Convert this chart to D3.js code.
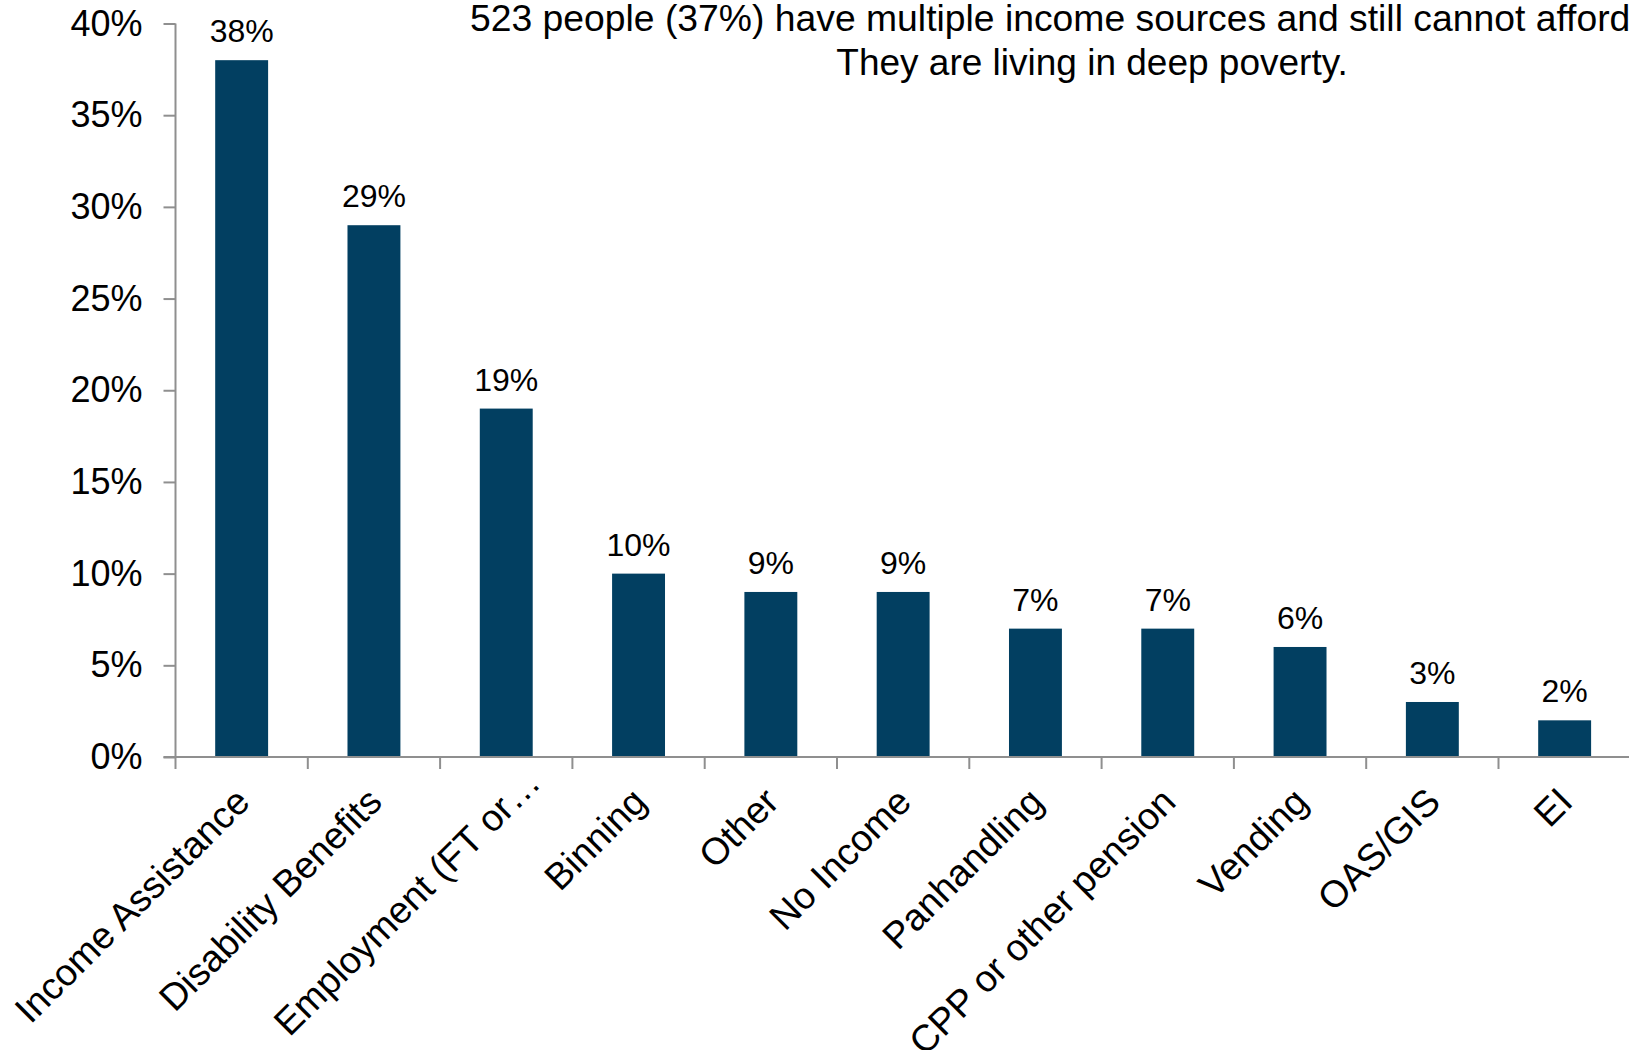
<!DOCTYPE html>
<html>
<head>
<meta charset="utf-8">
<script src="https://cdn.jsdelivr.net/npm/d3@7"></script>
<style>
  html, body { margin: 0; padding: 0; background: #fff; }
  svg { display: block; font-family: "Liberation Sans", Arial, sans-serif; }
</style>
</head>
<body>
<svg id="chart" width="1629" height="1050"></svg>
<script>
const categories = ["Income Assistance", "Disability Benefits", "Employment (FT or\u2026", "Binning", "Other", "No Income", "Panhandling", "CPP or other pension", "Vending", "OAS/GIS", "EI"];
const values = [38, 29, 19, 10, 9, 9, 7, 7, 6, 3, 2];
const yTicks = [0, 5, 10, 15, 20, 25, 30, 35, 40];
const titleLines = ["523 people (37%) have multiple income sources and still cannot afford", "They are living in deep poverty."];

const svg = d3.select("#chart");
const x0 = 175.5, step = 132.3;
const x = d3.scaleBand().domain(categories).range([x0, x0 + step * categories.length]).paddingInner(0.6).paddingOuter(0.3);
const y = d3.scaleLinear().domain([0, 40]).range([757, 23.5]);
const barColor = "#023f61";
const axisColor = "#8f8f8f";

// Bars
svg.append("g").selectAll("rect").data(values).join("rect")
  .attr("x", (d, i) => x(categories[i]))
  .attr("y", d => y(d))
  .attr("width", x.bandwidth())
  .attr("height", d => y(0) - y(d))
  .attr("fill", barColor);

// Value labels
svg.append("g").selectAll("text").data(values).join("text")
  .attr("x", (d, i) => x(categories[i]) + x.bandwidth() / 2)
  .attr("y", d => y(d) - 18)
  .attr("text-anchor", "middle")
  .attr("font-size", 32)
  .attr("fill", "#000")
  .text(d => d + "%");

// Y axis
const yAxis = d3.axisLeft(y).tickValues(yTicks).tickSize(12).tickPadding(21).tickFormat(d => d + "%");
const gy = svg.append("g").attr("transform", `translate(${x0},0)`).call(yAxis);
gy.select(".domain").attr("stroke", axisColor).attr("stroke-width", 2).attr("d", `M0,${y(40)}V${y(0)}`);
gy.selectAll(".tick line").attr("stroke", axisColor).attr("stroke-width", 2);
gy.selectAll(".tick text").attr("font-size", 36).attr("fill", "#000").attr("font-family", "Liberation Sans, Arial, sans-serif");

// X axis line and ticks at band boundaries
const boundaries = d3.range(categories.length + 1).map(i => x0 + i * step);
svg.append("line").attr("x1", x0 - 12).attr("x2", 1629).attr("y1", y(0)).attr("y2", y(0))
  .attr("stroke", axisColor).attr("stroke-width", 2);
svg.append("g").selectAll("line").data(boundaries).join("line")
  .attr("x1", d => d).attr("x2", d => d)
  .attr("y1", y(0)).attr("y2", y(0) + 12)
  .attr("stroke", axisColor).attr("stroke-width", 2);

// X labels (truncated labels are laid out from their full box, so they sit further along)
svg.append("g").selectAll("text").data(categories).join("text")
  .attr("transform", d => `translate(${x(d) + x.bandwidth() / 2 + 10},${y(0) + 47}) rotate(-45)`)
  .attr("text-anchor", "end")
  .attr("dx", d => d.endsWith("\u2026") ? 32 : 0)
  .attr("dy", d => d.endsWith("\u2026") ? 5 : 0)
  .attr("font-size", 37.5)
  .attr("fill", "#000")
  .text(d => d);

// Title
svg.append("text").attr("x", 470).attr("y", 31).attr("font-size", 37.3).attr("fill", "#000").text(titleLines[0]);
svg.append("text").attr("x", 1092).attr("y", 75).attr("font-size", 37).attr("text-anchor", "middle").attr("fill", "#000").text(titleLines[1]);
</script>
</body>
</html>
